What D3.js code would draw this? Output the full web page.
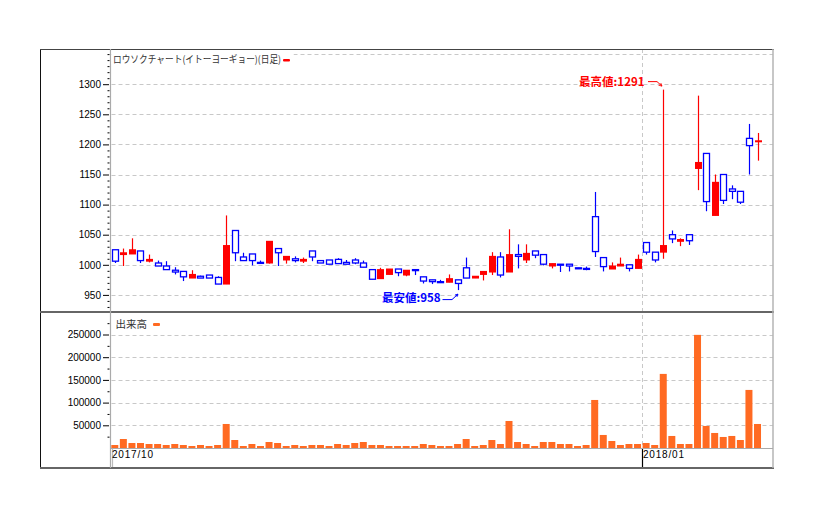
<!DOCTYPE html>
<html><head><meta charset="utf-8">
<script src="https://cdn.jsdelivr.net/npm/d3@7"></script>
<style>body{margin:0;background:#fff}svg{display:block}</style>
</head><body><svg id="c" width="815" height="520"></svg>
<script>
const dates = [
"2017-10-02","2017-10-03","2017-10-04","2017-10-05","2017-10-06","2017-10-10","2017-10-11","2017-10-12","2017-10-13","2017-10-16",
"2017-10-17","2017-10-18","2017-10-19","2017-10-20","2017-10-23","2017-10-24","2017-10-25","2017-10-26","2017-10-27","2017-10-30",
"2017-10-31","2017-11-01","2017-11-02","2017-11-06","2017-11-07","2017-11-08","2017-11-09","2017-11-10","2017-11-13","2017-11-14",
"2017-11-15","2017-11-16","2017-11-17","2017-11-20","2017-11-21","2017-11-22","2017-11-24","2017-11-27","2017-11-28","2017-11-29",
"2017-11-30","2017-12-01","2017-12-04","2017-12-05","2017-12-06","2017-12-07","2017-12-08","2017-12-11","2017-12-12","2017-12-13",
"2017-12-14","2017-12-15","2017-12-18","2017-12-19","2017-12-20","2017-12-21","2017-12-22","2017-12-25","2017-12-26","2017-12-27",
"2017-12-28","2017-12-29","2018-01-04","2018-01-05","2018-01-09","2018-01-10","2018-01-11","2018-01-12","2018-01-15","2018-01-16",
"2018-01-17","2018-01-18","2018-01-19","2018-01-22","2018-01-23","2018-01-24"];
const openP = [1006,1020,1025,1007,1009,998,992,988,980,984,978,978,968,1032,1020,1007,1007,1003,1039,1020,
1014,1007,1009,1013,1003,1001,1002,1001,1003,996,976,992,993,987,991,991,973,972,971,977,
969,978,981,989,1014,983,1017,1014,1019,1016,1001,1002,1000,998,994,993,1022,997,998,1001,
994,1009,1021,1008,1032,1043,1042,1040,1170,1105,1137,1107,1122,1104,1198,1206];
const highP = [1025,1027,1044,1023,1017,1007,1006,996,989,991,982,983,981,1082,1057,1020,1018,1007,1039,1027,
1014,1014,1012,1023,1007,1008,1011,1008,1011,1007,992,995,993,993,991,992,980,975,975,984,
975,1012,981,989,1021,1021,1059,1034,1034,1023,1017,1002,1001,1001,995,997,1121,1012,1004,1012,
1000,1017,1037,1021,1291,1057,1044,1050,1281,1185,1150,1150,1132,1122,1234,1219];
const lowP = [1003,998,1018,1003,1004,998,992,984,973,978,978,978,968,968,1006,1007,999,1003,1002,998,
1002,1004,1003,1006,1003,1001,1002,1001,1001,996,976,977,984,981,981,983,969,968,971,971,
958,978,978,974,983,979,988,994,1003,1011,999,994,988,989,994,991,1013,989,993,998,
989,994,1017,1004,1010,1036,1031,1033,1124,1089,1082,1101,1109,1101,1150,1173];
const closeP = [1025,1017,1018,1023,1006,1003,998,991,989,978,981,983,979,968,1057,1013,1018,1004,1003,1027,
1008,1010,1006,1023,1007,1008,1009,1004,1008,1003,992,977,984,993,983,992,980,975,972,971,
975,995,978,984,988,1013,988,1017,1008,1023,1017,998,1001,1001,995,994,1080,1012,993,998,
1000,994,1037,1021,1021,1050,1039,1050,1160,1185,1082,1150,1126,1122,1210,1205];
const volume = [6600,19800,11000,11000,8800,8800,6600,8800,6600,4400,6600,4400,6600,52900,17600,4400,8800,4400,13200,11000,
4400,6600,4400,6600,6600,4400,8800,6600,11000,13200,6600,6600,4400,4400,4400,4400,8800,6600,4400,4400,
8800,19800,4400,6600,17600,8800,59500,13200,8800,4400,13200,13200,8800,8800,4400,6600,105800,28700,15400,6600,
8800,8800,11000,6600,163200,26500,8800,8800,249200,48500,33100,24300,26500,17600,127900,52900];
const priceTicks = [950,1000,1050,1100,1150,1200,1250,1300];
const priceGrid = [950,1000,1050,1100,1150,1200,1250,1300,1350];
const volumeTicks = [50000,100000,150000,200000,250000];
const monthLabels = ["2017/10","2018/01"];
const titleText = "ロウソクチャート(イトーヨーギョー)(日足)";
const volTitle = "出来高";

const svg = d3.select('#c');
const L = 110.5, R = 773, PT = 49, PB = 311, VT = 313, VB = 448, XB = 468;
const UP = "#0000ff", DOWN = "#ff0000", VOL = "#ff6a22", GRID = "#c8c8c8";
const x = d3.scaleBand().domain(d3.range(dates.length)).range([110.5, 761.8]);
const cx = i => x(i) + x.bandwidth() / 2;
const y = d3.scaleLinear().domain([1000, 1300]).range([264.8, 84.2]);
const yv = d3.scaleLinear().domain([0, 250000]).range([448, 334.5]);
const snap = v => Math.round(v) + 0.5;

svg.append("rect").attr("width", 815).attr("height", 520).attr("fill", "#fff");

// grid lines
svg.append("g").selectAll("line").data(priceGrid).join("line")
  .attr("x1", L + 1).attr("x2", R).attr("y1", d => snap(y(d))).attr("y2", d => snap(y(d)))
  .attr("stroke", GRID).attr("stroke-dasharray", "4,3");
svg.append("g").selectAll("line").data(volumeTicks).join("line")
  .attr("x1", L + 1).attr("x2", R).attr("y1", d => snap(yv(d))).attr("y2", d => snap(yv(d)))
  .attr("stroke", GRID).attr("stroke-dasharray", "4,3");

// month boundaries
const monthStarts = [];
dates.forEach((d, i) => {
  const m = d.slice(0, 7).replace("-", "/");
  if (i === 0 || m !== dates[i - 1].slice(0, 7).replace("-", "/")) {
    if (monthLabels.includes(m)) monthStarts.push({ i, label: m });
  }
});
monthStarts.forEach(ms => {
  const xx = Math.round(x(ms.i)) + 0.5;
  if (ms.i > 0) {
    svg.append("line").attr("x1", xx).attr("x2", xx).attr("y1", PT).attr("y2", VB)
      .attr("stroke", GRID).attr("stroke-dasharray", "4,3");
  }
  svg.append("line").attr("x1", xx + (ms.i === 0 ? 1 : 0)).attr("x2", xx + (ms.i === 0 ? 1 : 0))
    .attr("y1", VB + 1).attr("y2", XB - 1)
    .attr("stroke", ms.i === 0 ? "#bbb" : "#000").attr("stroke-width", 1.2);
  svg.append("text").attr("x", xx + 0.5).attr("y", 457.5).text(ms.label)
    .attr("font-family", "Liberation Sans, Arial, sans-serif").attr("font-size", 10)
    .attr("letter-spacing", 0.8).attr("fill", "#000");
});

// volume bars
svg.append("g").selectAll("rect").data(volume).join("rect")
  .attr("x", (d, i) => cx(i) - 3.5).attr("width", 7)
  .attr("y", d => yv(d)).attr("height", d => VB - yv(d)).attr("fill", VOL);

// candles
const cg = svg.append("g");
dates.forEach((d, i) => {
  const o = openP[i], c = closeP[i], h = highP[i], l = lowP[i];
  const up = c >= o;
  const col = up ? UP : DOWN;
  const xc = Math.round(cx(i)) + 0.5;
  cg.append("line").attr("x1", xc).attr("x2", xc).attr("y1", y(h)).attr("y2", y(l))
    .attr("stroke", col).attr("stroke-width", 1.2);
  const top = y(Math.max(o, c)), bh = Math.max(Math.abs(y(o) - y(c)), 1);
  if (up) {
    cg.append("rect").attr("x", xc - 3).attr("width", 6).attr("y", top).attr("height", bh)
      .attr("fill", "#fff").attr("stroke", col).attr("stroke-width", 1.3);
  } else {
    cg.append("rect").attr("x", xc - 3.5).attr("width", 7).attr("y", top - 0.5).attr("height", bh + 1)
      .attr("fill", col);
  }
});

// frame
svg.append("line").attr("x1", 40.5).attr("x2", 40.5).attr("y1", PT).attr("y2", XB + 1).attr("stroke", "#111");
svg.append("line").attr("x1", 40).attr("x2", R + 1).attr("y1", PT + 0.5).attr("y2", PT + 0.5).attr("stroke", "#444");
svg.append("line").attr("x1", 40).attr("x2", R + 1).attr("y1", 312).attr("y2", 312).attr("stroke", "#666").attr("stroke-width", 2);
svg.append("line").attr("x1", 40).attr("x2", R + 1).attr("y1", XB).attr("y2", XB).attr("stroke", "#666").attr("stroke-width", 2);
svg.append("line").attr("x1", R).attr("x2", R).attr("y1", PT).attr("y2", XB).attr("stroke", "#b4b4b4").attr("stroke-width", 1.5);
svg.append("line").attr("x1", L).attr("x2", L).attr("y1", PT).attr("y2", XB).attr("stroke", "#aaa").attr("stroke-width", 1.2);
svg.append("line").attr("x1", L).attr("x2", R).attr("y1", VB + 0.5).attr("y2", VB + 0.5).attr("stroke", "#aaa").attr("stroke-width", 1.2);

// axes
const styleAxis = g => {
  g.select(".domain").remove();
  g.selectAll("line").attr("stroke", "#000");
  g.selectAll("text").attr("font-family", "Liberation Sans, Arial, sans-serif").attr("font-size", 10).attr("fill", "#000");
};
svg.append("g").attr("transform", `translate(109,0)`)
  .call(d3.axisLeft(y).tickValues(priceTicks).tickSize(6).tickPadding(2).tickFormat(d3.format("d")))
  .call(styleAxis);
svg.append("g").attr("transform", `translate(109.5,0)`)
  .call(d3.axisLeft(y).tickValues(d3.range(930, 1351, 10).filter(v => !priceTicks.includes(v))).tickSize(2).tickFormat(""))
  .call(styleAxis);
svg.append("g").attr("transform", `translate(109,0)`)
  .call(d3.axisLeft(yv).tickValues(volumeTicks).tickSize(6).tickPadding(2).tickFormat(d3.format("d")))
  .call(styleAxis);
svg.append("g").attr("transform", `translate(109.5,0)`)
  .call(d3.axisLeft(yv).tickValues(d3.range(25000, 275001, 50000)).tickSize(2).tickFormat(""))
  .call(styleAxis);

// title (price)
svg.append("rect").attr("x", L + 1).attr("y", 51).attr("width", 182).attr("height", 13).attr("fill", "#fff");
svg.append("text").attr("x", 113).attr("y", 63).text(titleText)
  .attr("font-family", "Noto Sans CJK JP, sans-serif").attr("font-size", 10)
  .attr("textLength", 168).attr("lengthAdjust", "spacingAndGlyphs").attr("fill", "#333");
svg.append("rect").attr("x", 283).attr("y", 59).attr("width", 7).attr("height", 2.6).attr("rx", 1).attr("fill", DOWN);

// volume legend
svg.append("text").attr("x", 115.5).attr("y", 327.5).text(volTitle)
  .attr("font-family", "Noto Sans CJK JP, sans-serif").attr("font-size", 10.5).attr("fill", "#333");
svg.append("rect").attr("x", 153).attr("y", 323).attr("width", 7).attr("height", 3).attr("rx", 1).attr("fill", VOL);

// annotations
const defs = svg.append("defs");
[["aR", DOWN], ["aB", UP]].forEach(([id, col]) => {
  defs.append("marker").attr("id", id).attr("viewBox", "0 0 6 6").attr("refX", 5).attr("refY", 3)
    .attr("markerWidth", 4).attr("markerHeight", 4).attr("orient", "auto")
    .append("path").attr("d", "M0,0.5 L5,3 L0,5.5").attr("fill", "none").attr("stroke", col).attr("stroke-width", 1.2);
});
const iMax = d3.maxIndex(highP), iMin = d3.minIndex(lowP);
{
  const xc = Math.round(cx(iMax)) + 0.5, yt = y(highP[iMax]);
  svg.append("text").attr("x", xc - 19).attr("y", yt - 4).attr("text-anchor", "end")
    .text("最高値:" + highP[iMax]).attr("font-family", "Noto Sans CJK JP, sans-serif")
    .attr("font-weight", "bold").attr("font-size", 11.5).attr("fill", DOWN);
  svg.append("polyline").attr("points", `${xc - 15.5},${yt - 8} ${xc - 6.5},${yt - 8} ${xc - 1.5},${yt - 3.5}`)
    .attr("fill", "none").attr("stroke", DOWN).attr("stroke-width", 1).attr("marker-end", "url(#aR)");
}
{
  const xc = Math.round(cx(iMin)) + 0.5, yb = y(lowP[iMin]);
  svg.append("text").attr("x", xc - 18).attr("y", yb + 11.5).attr("text-anchor", "end")
    .text("最安値:" + lowP[iMin]).attr("font-family", "Noto Sans CJK JP, sans-serif")
    .attr("font-weight", "bold").attr("font-size", 11.5).attr("fill", UP);
  svg.append("polyline").attr("points", `${xc - 16},${yb + 9.5} ${xc - 6.5},${yb + 9.5} ${xc - 0.5},${yb + 4}`)
    .attr("fill", "none").attr("stroke", UP).attr("stroke-width", 1).attr("marker-end", "url(#aB)");
}
</script></body></html>
